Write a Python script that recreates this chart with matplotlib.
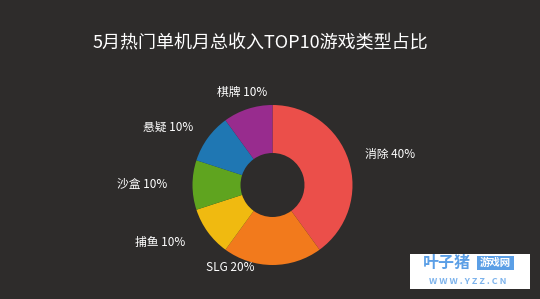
import matplotlib
matplotlib.use("Agg")
import numpy as np
import matplotlib.pyplot as plt
from matplotlib.patches import Rectangle

plt.rcParams['font.family'] = ['Noto Sans CJK SC', 'DejaVu Sans']

title = '5月热门单机月总收入TOP10游戏类型占比'
categories = ['消除', 'SLG', '捕鱼', '沙盒', '悬疑', '棋牌']
shares = [40, 20, 10, 10, 10, 10]
colors = ['#EB4F4A', '#F27A1C', '#F0BA10', '#5FA41F', '#1F77B3', '#982C8E']

BG = '#2E2C2B'
W, H = 540, 299

fig = plt.figure(figsize=(W / 100, H / 100), dpi=100, facecolor=BG)
ax = fig.add_axes([0, 0, 1, 1])
ax.set_facecolor(BG)

cx, cy, r = 272.5, H - 185, 80
wedges, _ = ax.pie(shares, colors=colors, startangle=90,
                   counterclock=False, center=(cx, cy), radius=r,
                   wedgeprops=dict(width=r * 0.6, linewidth=0))

# labels outside each wedge
for w, c, v in zip(wedges, categories, shares):
    a = np.deg2rad((w.theta1 + w.theta2) / 2)
    ca, sa = np.cos(a), np.sin(a)
    x, y = cx + 1.22 * r * ca, cy + 1.22 * r * sa
    ha = 'center' if abs(ca) < 0.35 else ('left' if ca > 0 else 'right')
    if c == 'SLG':   # nudged left in the original layout
        x, y = x - 42, y + 15
    elif ca < -0.35 and sa < 0.01:  # lower-left labels sit further out
        x -= 8
    ax.text(x, y, f'{c} {v}%', ha=ha, va='center', color='white',
            fontsize=8.5)

ax.set_xlim(0, W)
ax.set_ylim(0, H)
ax.set_aspect('equal')
ax.axis('off')

fig.text(260 / W, 1 - 43 / H, title, ha='center', va='center',
         color='white', fontsize=13)

# watermark
ax.add_patch(Rectangle((410, H - 289), 120, 35, facecolor='white',
                       edgecolor='none', zorder=5))
ax.text(423, H - 263, '叶子猪', color='#5B9FE6', fontsize=11.5,
        fontweight='bold', va='center', ha='left', zorder=6)
ax.add_patch(Rectangle((477, H - 270), 37, 14, facecolor='#5B9FE6',
                       edgecolor='none', zorder=6))
ax.text(495.5, H - 263, '游戏网', color='white', fontsize=7.5,
        fontweight='bold', va='center', ha='center', zorder=7)
ax.text(468, H - 281, 'W W W . Y Z Z . C N', color='#7DB3EC',
        fontsize=6.5, fontweight='bold', va='center', ha='center',
        zorder=6)

fig.savefig('out.png', dpi=100, facecolor=BG)
